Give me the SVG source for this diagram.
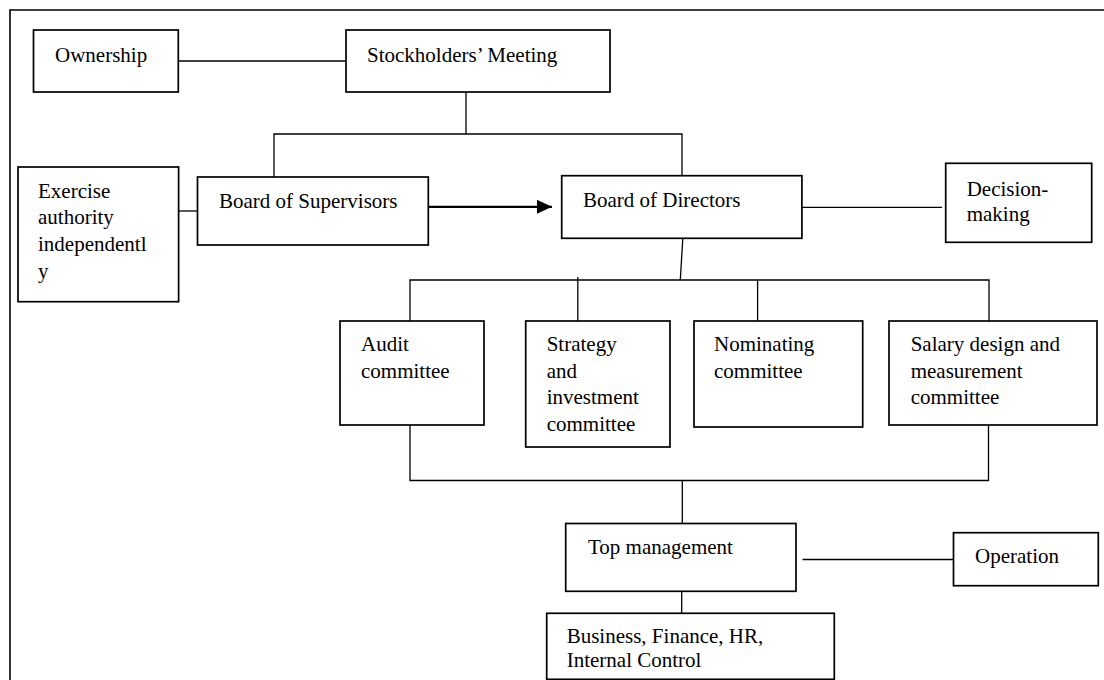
<svg xmlns="http://www.w3.org/2000/svg" width="1104" height="680" viewBox="0 0 1104 680">
<defs>
<style>
.box{fill:#fff;stroke:#000;stroke-width:1.7}
.c{fill:none;stroke:#000;stroke-width:1.3}
.frame{fill:none;stroke:#000;stroke-width:1.6}
text{font-family:"Liberation Serif","Times New Roman",serif;font-size:21px;fill:#000}
</style>
<marker id="ah" markerUnits="userSpaceOnUse" markerWidth="16" markerHeight="16" refX="15" refY="7" orient="auto">
<path d="M0,0 L15,7 L0,14 Z" fill="#000"/>
</marker>
</defs>
<rect width="1104" height="680" fill="#fff"/>
<path class="frame" d="M10,680 V10 H1104"/>
<g id="connectors">
<line class="c" x1="178" y1="61" x2="346" y2="61"/>
<path class="c" d="M466,92 V134 M274,177 V134 H682 V176"/>
<line class="c" x1="178.6" y1="211" x2="197.5" y2="211"/>
<line x1="428" y1="206.8" x2="552" y2="206.8" stroke="#000" stroke-width="2.2" marker-end="url(#ah)"/>
<line class="c" x1="802" y1="207.3" x2="942" y2="207.3"/>
<path class="c" d="M682.8,238.3 L680.3,280 M410,321 V280 H989 V321 M577.8,277 V321 M757.6,280 V321"/>
<path class="c" d="M410,425 V480.5 H988.5 V425 M682.3,480.5 V523.5"/>
<line class="c" x1="802.5" y1="559.5" x2="953.5" y2="559.5"/>
<line class="c" x1="681.7" y1="591" x2="681.7" y2="613.3"/>
</g>
<g id="ownership"><rect class="box" x="33.5" y="30" width="144.8" height="62"/><text x="55" y="62">Ownership</text></g>
<g id="stockholders"><rect class="box" x="346" y="30" width="264" height="62"/><text x="367" y="62">Stockholders’ Meeting</text></g>
<g id="exercise"><rect class="box" x="18" y="167" width="160.6" height="134.7"/>
<text x="38" y="197.5">Exercise</text><text x="38" y="224.3">authority</text><text x="38" y="251.2">independentl</text><text x="38" y="278">y</text></g>
<g id="supervisors"><rect class="box" x="197.5" y="177" width="230.8" height="68"/><text x="219" y="207.5">Board of Supervisors</text></g>
<g id="directors"><rect class="box" x="561.7" y="175.7" width="240.2" height="62.6"/><text x="583" y="207">Board of Directors</text></g>
<g id="decision"><rect class="box" x="945.7" y="163.3" width="146" height="79"/><text x="966.7" y="196">Decision-</text><text x="966.7" y="220.5">making</text></g>
<g id="audit"><rect class="box" x="340" y="321" width="144" height="104"/><text x="361" y="351">Audit</text><text x="361" y="377.5">committee</text></g>
<g id="strategy"><rect class="box" x="525.7" y="321" width="144.3" height="126"/><text x="546.7" y="351">Strategy</text><text x="546.7" y="377.7">and</text><text x="546.7" y="404.3">investment</text><text x="546.7" y="431">committee</text></g>
<g id="nominating"><rect class="box" x="694" y="321" width="168.7" height="106"/><text x="714" y="351">Nominating</text><text x="714" y="377.5">committee</text></g>
<g id="salary"><rect class="box" x="889" y="321" width="208" height="104"/><text x="910.7" y="351">Salary design and</text><text x="910.7" y="377.5">measurement</text><text x="910.7" y="404">committee</text></g>
<g id="top"><rect class="box" x="565.7" y="523.5" width="230.3" height="67.8"/><text x="588" y="553.5">Top management</text></g>
<g id="operation"><rect class="box" x="953.5" y="532.7" width="144.8" height="53"/><text x="975" y="562.7">Operation</text></g>
<g id="business"><rect class="box" x="546.7" y="613.3" width="287.6" height="66"/><text x="566.7" y="643.3">Business, Finance, HR,</text><text x="566.7" y="666.7">Internal Control</text></g>
</svg>
